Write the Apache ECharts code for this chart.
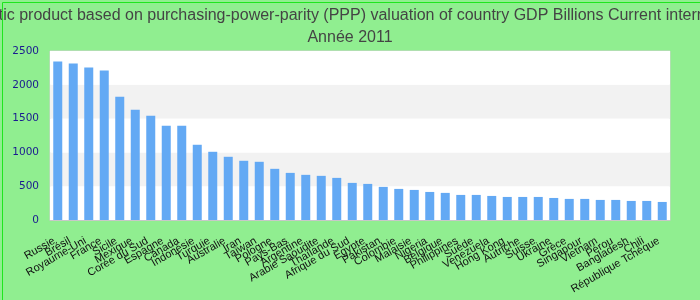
<!DOCTYPE html>
<html><head><meta charset="utf-8">
<script src="https://cdn.jsdelivr.net/npm/echarts@6/dist/echarts.min.js"></script>
<style>html,body{margin:0;padding:0;background:#90ee90;}#c{width:700px;height:300px;}</style>
</head><body><div id="c"></div>
<script>
const titleText = 'Gross domestic product based on purchasing-power-parity (PPP) valuation of country GDP Billions Current international dollar';
const subtitleText = 'Année 2011';
const categories = ['Russie','Brésil','Royaume-Uni','France','Sicile','Mexique','Corée du Sud','Espagne','Canada','Indonésie','Turquie','Australie','Iran','Taïwan','Pologne','Pays-Bas','Argentine','Arabie Saoudite','Thaïlande','Afrique du Sud','Egypte','Pakistan','Colombie','Malaisie','Nigeria','Belgique','Philippines','Suède','Venezuela','Hong Kong','Autriche','Suisse','Ukraine','Grèce','Singapour','Vietnam','Pérou','Bangladesh','Chili','République Tchèque'];
const values = [2345,2315,2256,2211,1825,1632,1543,1395,1395,1113,1009,935,876,861,757,697,668,653,623,549,534,490,460,445,415,401,371,371,356,341,341,341,326,312,312,297,297,282,282,267];
const yTicks = {min:0, max:2500, interval:500};

const chart = echarts.init(document.getElementById('c'), null, {renderer:'canvas'});
chart.setOption({
  backgroundColor:'#90ee90',
  animation:false,
  graphic:[{type:'rect', left:0, top:0, shape:{x:0.5,y:0.5,width:699,height:299}, style:{fill:'none', stroke:'#1ee61e', lineWidth:1}, z:100}],
  title:[
    {text:titleText, left:'center', top:3, textStyle:{fontFamily:'Liberation Sans', fontSize:16, fontWeight:'normal', color:'#444'}},
    {text:subtitleText, left:'center', top:25, textStyle:{fontFamily:'Liberation Sans', fontSize:16, fontWeight:'normal', color:'#444'}}
  ],
  grid:{left:50, right:30, top:51, bottom:80, show:true, backgroundColor:'#fff', borderColor:'#d0d0d0', borderWidth:1},
  xAxis:{type:'category', data:categories,
    axisLine:{lineStyle:{color:'#c8c8c8'}}, axisTick:{show:false},
    axisLabel:{interval:0, rotate:30, margin:18, padding:[0,4,0,0], fontFamily:'Liberation Sans', fontSize:11, color:'#111'}},
  yAxis:{type:'value', min:yTicks.min, max:yTicks.max, interval:yTicks.interval,
    axisLine:{show:false}, axisTick:{show:false}, splitLine:{show:false},
    splitArea:{show:true, areaStyle:{color:['#ffffff','#f2f2f2']}},
    axisLabel:{margin:11, fontFamily:'DejaVu Sans', fontSize:10.5, color:'#1a1a90', formatter:function(v){return String(v);}}},
  series:[{type:'bar', data:values, barWidth:9, itemStyle:{color:'#63a9f4'}}]
});
</script></body></html>
